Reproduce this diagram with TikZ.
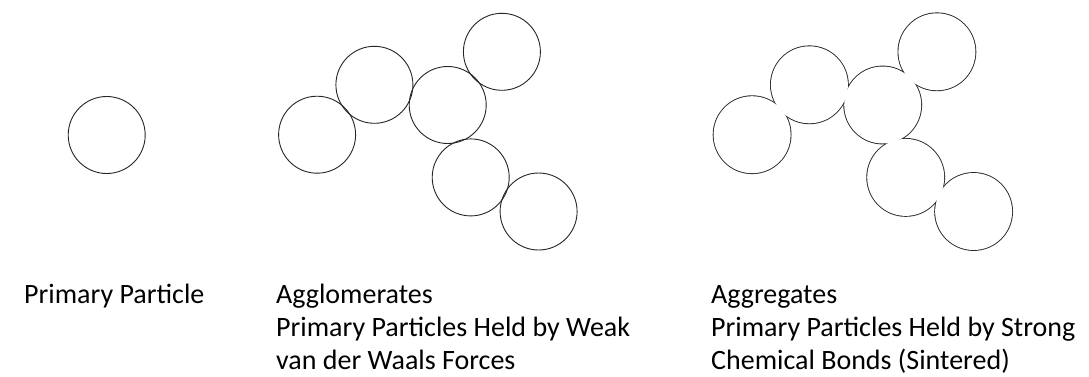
\documentclass[tikz,border=0pt]{standalone}
\usepackage{fontspec}
\setmainfont{Carlito}
\begin{document}
\begin{tikzpicture}[x=1pt,y=-1pt,
  outline/.style={draw=black!85,line width=0.9pt},
  label/.style={anchor=base west,inner sep=0pt,font=\fontsize{28}{33}\selectfont,text=black}]
\useasboundingbox[fill=white] (0,0) rectangle (1089,376);
\def\rad{38.5}
% single primary particle
\draw[outline] (106.7,135) circle (\rad);
% agglomerate: touching circles, each outline drawn in full
\foreach \cx/\cy in {317.1/134.7,374.4/84.8,447.7/105,501.9/51.8,470.7/177.4,538.6/211.5}
  \draw[outline] (\cx,\cy) circle (\rad);
% aggregate: same arrangement, only the outer outline of the fused union
\begin{scope}[xshift=435pt]
  \foreach \cx/\cy in {317.1/134.7,374.4/84.8,447.7/105,501.9/51.8,470.7/177.4,538.6/211.5}
    \draw[draw=black!85,line width=1.8pt] (\cx,\cy) circle (\rad);
  \foreach \cx/\cy in {317.1/134.7,374.4/84.8,447.7/105,501.9/51.8,470.7/177.4,538.6/211.5}
    \fill[white] (\cx,\cy) circle (\rad);
\end{scope}
% captions
\node[label] (pp)  at (24,303)  {Primary Particle};
\node[label] (ag1) at (276,303) {Agglomerates};
\node[label] (ag2) at (276,336) {Primary Particles Held by Weak};
\node[label] (ag3) at (276,369) {van der Waals Forces};
\node[label] (sg1) at (711,303) {Aggregates};
\node[label] (sg2) at (711,336) {Primary Particles Held by Strong};
\node[label] (sg3) at (711,369) {Chemical Bonds (Sintered)};
\end{tikzpicture}
\end{document}
